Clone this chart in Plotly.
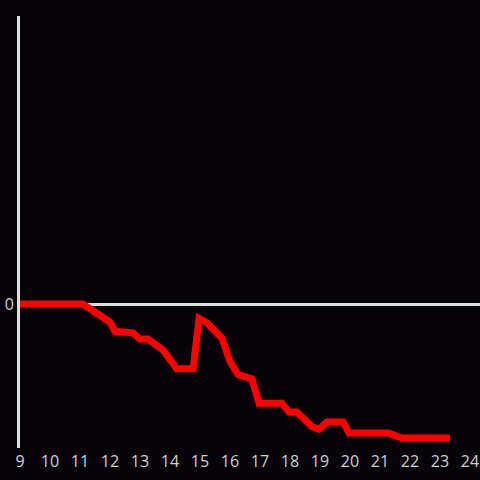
import plotly.graph_objects as go

hours = [9.0, 11.1, 12.0, 12.17, 12.77, 13.0, 13.27, 13.77, 14.23, 14.77, 14.97, 15.23,
         15.73, 16.0, 16.27, 16.73, 16.97, 17.73, 17.97, 18.23, 18.73, 18.97, 19.23,
         19.77, 19.97, 21.27, 21.73, 23.33]
values = [0.0, 0.0, -0.125, -0.19, -0.20, -0.243, -0.243, -0.32, -0.45, -0.45, -0.10, -0.13,
          -0.236, -0.40, -0.49, -0.52, -0.69, -0.69, -0.75, -0.75, -0.85, -0.87, -0.82,
          -0.82, -0.895, -0.895, -0.93, -0.93]
tick_vals = list(range(9, 25))
tick_text = [str(v) for v in tick_vals]

fig = go.Figure(go.Scatter(x=hours, y=values, mode="lines",
                           line=dict(color="#ff0000", width=7), hoverinfo="skip"))
fig.update_layout(
    width=480, height=480,
    margin=dict(l=20, r=0, t=16, b=32),
    paper_bgcolor="#050308", plot_bgcolor="#050308",
    showlegend=False,
    font=dict(family="Open Sans", color="#d0d0d0", size=16),
)
fig.update_xaxes(range=[9, 24.333], tickvals=tick_vals, ticktext=tick_text,
                 showgrid=False, zeroline=False, showline=False, ticks="",
                 automargin=False, ticklabelstandoff=2,
                 tickfont=dict(size=16, color="#d0d0d0"))
fig.update_yaxes(range=[-1, 2], tickvals=[0], ticktext=["0"], showgrid=False,
                 zeroline=True, zerolinecolor="#dddddd", zerolinewidth=3,
                 showline=True, linecolor="#dddddd", linewidth=3, ticks="",
                 automargin=False, ticklabelstandoff=0,
                 tickfont=dict(size=16, color="#d0d0d0"))
fig.write_html("out.html", config={"displayModeBar": False},
               post_script="document.body.style.margin='0';document.body.style.background='#050308';")
